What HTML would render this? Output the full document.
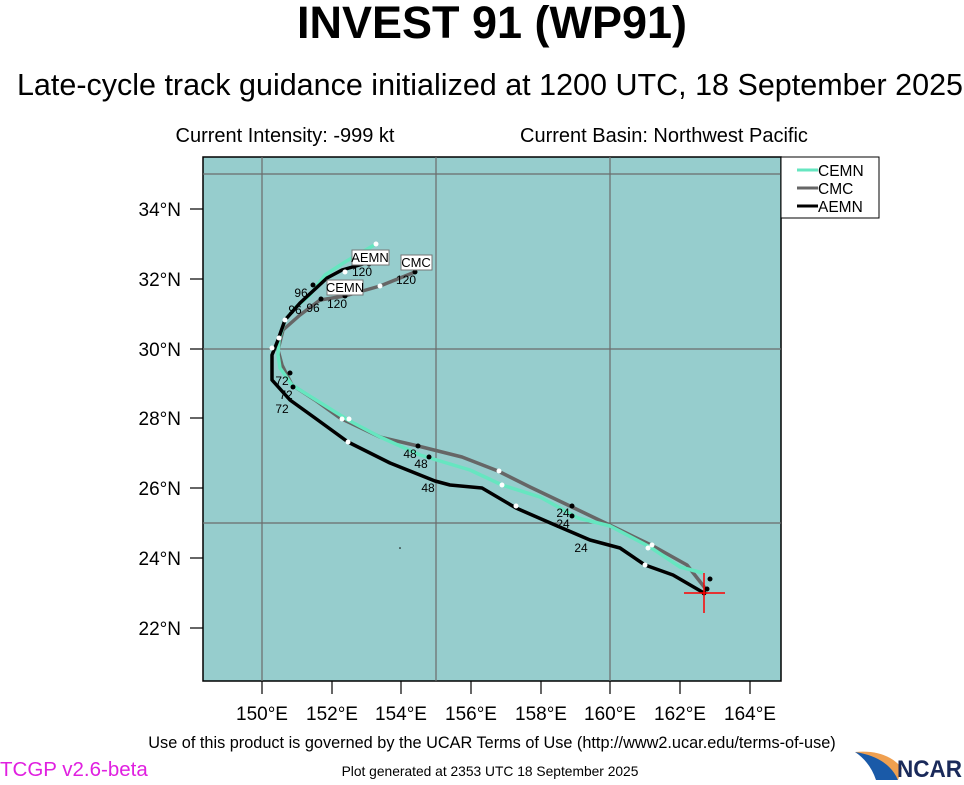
<!DOCTYPE html>
<html><head><meta charset="utf-8"><style>
body{margin:0;background:#fff;width:964px;height:780px;overflow:hidden;font-family:"Liberation Sans",sans-serif}
</style></head><body>
<svg width="964" height="780" xmlns="http://www.w3.org/2000/svg" font-family="Liberation Sans, sans-serif">
<text x="492" y="38" font-size="45" font-weight="bold" text-anchor="middle">INVEST 91 (WP91)</text>
<text x="490" y="95" font-size="30.5" text-anchor="middle">Late-cycle track guidance initialized at 1200 UTC, 18 September 2025</text>
<text x="285" y="142" font-size="20" text-anchor="middle">Current Intensity: -999 kt</text>
<text x="664" y="142" font-size="20" text-anchor="middle">Current Basin: Northwest Pacific</text>
<rect x="203" y="157" width="578" height="524" fill="#96cdcd" stroke="#000" stroke-width="1.5"/>
<g stroke="#6b6b6b" stroke-width="1.2">
<line x1="262" y1="157" x2="262" y2="681"/><line x1="436" y1="157" x2="436" y2="681"/><line x1="610" y1="157" x2="610" y2="681"/>
<line x1="203" y1="174" x2="781" y2="174"/><line x1="203" y1="349" x2="781" y2="349"/><line x1="203" y1="523" x2="781" y2="523"/>
</g>
<g stroke="#000" stroke-width="1.2">
<line x1="190" y1="209" x2="203" y2="209"/><line x1="190" y1="279" x2="203" y2="279"/><line x1="190" y1="349" x2="203" y2="349"/><line x1="190" y1="418" x2="203" y2="418"/><line x1="190" y1="488" x2="203" y2="488"/><line x1="190" y1="558" x2="203" y2="558"/><line x1="190" y1="628" x2="203" y2="628"/>
<line x1="262" y1="681" x2="262" y2="694"/><line x1="332" y1="681" x2="332" y2="694"/><line x1="401" y1="681" x2="401" y2="694"/><line x1="471" y1="681" x2="471" y2="694"/><line x1="541" y1="681" x2="541" y2="694"/><line x1="610" y1="681" x2="610" y2="694"/><line x1="680" y1="681" x2="680" y2="694"/><line x1="750" y1="681" x2="750" y2="694"/>
</g>
<g font-size="19" text-anchor="end">
<text x="181" y="216">34°N</text><text x="181" y="286">32°N</text><text x="181" y="356">30°N</text><text x="181" y="425">28°N</text><text x="181" y="495">26°N</text><text x="181" y="565">24°N</text><text x="181" y="635">22°N</text>
</g>
<g font-size="19" text-anchor="middle">
<text x="262" y="720">150°E</text><text x="332" y="720">152°E</text><text x="401" y="720">154°E</text><text x="471" y="720">156°E</text><text x="541" y="720">158°E</text><text x="610" y="720">160°E</text><text x="680" y="720">162°E</text><text x="750" y="720">164°E</text>
</g>
<g fill="none" stroke-linejoin="round" stroke-width="3.5">
<polyline stroke="#666" points="705,588 687,565 653,546 620,530 572,507 530,487 498,471 462,457 418,446 380,437 340,418 315,400 292,385 282,365 278,350 283,330 300,315 320,300 345,296 380,286 415,272"/>
<polyline stroke="#66e6c0" points="703,573 680,567 650,547 610,526 578,518 540,497 502,485 470,470 420,455 380,437 348,420 316,400 292,385 280,368 278,355 279,340 285,320 296,307 310,295 325,275 345,262 376,244"/>
<polyline stroke="#000" points="704,593 673,575 645,565 620,548 590,540 555,525 516,508 482,488 450,485 435,481 390,463 348,442 315,418 290,400 272,380 272,355 278,340 285,320 300,303 327,278 342,270 370,262"/>
</g>
<g fill="#fff"><circle cx="499" cy="471" r="2.5"/><circle cx="502" cy="485" r="2.5"/><circle cx="516" cy="506" r="2.5"/><circle cx="652" cy="545" r="2.5"/><circle cx="648" cy="548" r="2.5"/><circle cx="645" cy="565" r="2.5"/><circle cx="348" cy="442" r="2.5"/><circle cx="342" cy="419" r="2.5"/><circle cx="349" cy="419" r="2.5"/><circle cx="272" cy="348" r="2.5"/><circle cx="279" cy="338" r="2.5"/><circle cx="285" cy="320" r="2.5"/><circle cx="345" cy="272" r="2.5"/><circle cx="376" cy="244" r="2.5"/><circle cx="380" cy="286" r="2.5"/></g>
<g fill="#000"><circle cx="418" cy="446" r="2.5"/><circle cx="429" cy="457" r="2.5"/><circle cx="572" cy="506" r="2.5"/><circle cx="572" cy="516" r="2.5"/><circle cx="710" cy="579" r="2.5"/><circle cx="707" cy="589" r="2.5"/><circle cx="704" cy="593" r="2.5"/><circle cx="290" cy="373" r="2.5"/><circle cx="293" cy="387" r="2.5"/><circle cx="313" cy="285" r="2.5"/><circle cx="321" cy="299" r="2.5"/><circle cx="345" cy="296" r="2.5"/><circle cx="369" cy="264" r="2.5"/><circle cx="415" cy="272" r="2.5"/><circle cx="400" cy="548" r="0.8"/></g>
<g stroke="#f00" stroke-width="1.5"><line x1="684" y1="593" x2="725" y2="593"/><line x1="704" y1="573" x2="704" y2="613"/></g>
<g font-size="12" text-anchor="middle">
<text x="410" y="458">48</text><text x="421" y="468">48</text><text x="428" y="492">48</text>
<text x="563" y="517">24</text><text x="563" y="528">24</text><text x="581" y="552">24</text>
<text x="282" y="385">72</text><text x="286" y="399">72</text><text x="282" y="413">72</text>
<text x="301" y="297">96</text><text x="295" y="314">96</text><text x="313" y="312">96</text>
<text x="337" y="308">120</text><text x="362" y="276">120</text><text x="406" y="284">120</text>
</g>
<g font-size="13" text-anchor="middle">
<rect x="352" y="250" width="37" height="15" fill="#fff" stroke="#777"/><text x="370" y="262">AEMN</text>
<rect x="327" y="280" width="36" height="15" fill="#fff" stroke="#777"/><text x="345" y="292">CEMN</text>
<rect x="401" y="255" width="31" height="15" fill="#fff" stroke="#777"/><text x="416" y="267">CMC</text>
</g>
<rect x="781" y="157" width="98" height="61" fill="#fff" stroke="#000"/>
<g stroke-width="3"><line x1="797" y1="170" x2="818" y2="170" stroke="#66e6c0"/><line x1="797" y1="188" x2="818" y2="188" stroke="#666"/><line x1="797" y1="206" x2="818" y2="206" stroke="#000"/></g>
<g font-size="15.5"><text x="818" y="176">CEMN</text><text x="818" y="194">CMC</text><text x="818" y="212">AEMN</text></g>
<text x="492" y="748" font-size="16.3" text-anchor="middle">Use of this product is governed by the UCAR Terms of Use (http://www2.ucar.edu/terms-of-use)</text>
<text x="490" y="776" font-size="13.8" text-anchor="middle">Plot generated at 2353 UTC   18 September 2025</text>
<text x="0" y="776" font-size="20.5" fill="#e020e0">TCGP v2.6-beta</text>
<path d="M855,752 Q888,754 898,780 L876,780 Q870,762 855,752Z" fill="#1a5aa8"/>
<path d="M855,752 Q886,749 902,768 L898,780 Q888,757 855,752Z" fill="#f0a050"/>
<text x="897" y="777" font-size="24" font-weight="bold" fill="#1a2a5a" textLength="65" lengthAdjust="spacingAndGlyphs">NCAR</text>
</svg>
</body></html>
